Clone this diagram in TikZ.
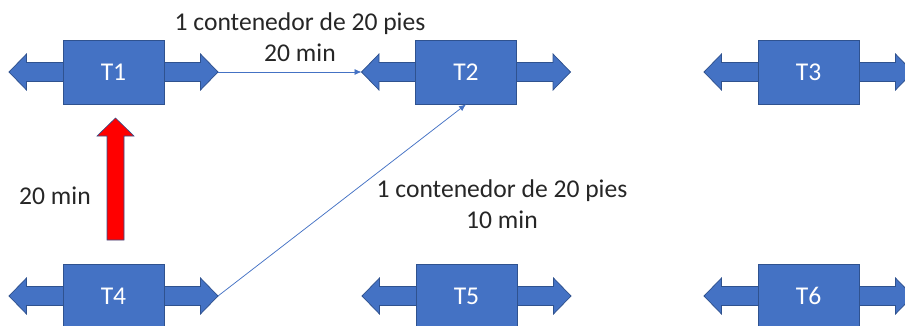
\documentclass[tikz,border=0pt]{standalone}
\usepackage{fontspec}
\setmainfont{Carlito}
\usetikzlibrary{arrows.meta}
\usetikzlibrary{backgrounds}
\usetikzlibrary{scopes}
\definecolor{officeblue}{HTML}{4472C4}
\definecolor{officeedge}{HTML}{2F528F}
\definecolor{labeltext}{HTML}{262626}

\begin{document}
\begin{tikzpicture}[x=1pt,y=-1pt,
    every node/.style={font=\fontsize{25.6}{31}\selectfont},
    terminal/.style={rectangle,draw=officeedge,fill=officeblue,line width=0.75pt,
        minimum width=101pt,minimum height=64pt,inner sep=0pt,text=white},
    sidearrow/.style={draw=officeedge,fill=officeblue,line width=0.75pt},
    redblock/.style={draw=officeedge,fill=red,line width=0.6pt},
    link/.style={officeblue,line width=0.75pt,-{Latex[length=7pt,width=6pt]}},
    note/.style={text=labeltext,align=center,inner sep=0pt}]
    \useasboundingbox (0,0) rectangle (905,325);
    \node[terminal] (t1) at (113.5,72) {T1};
    \node[terminal] (t2) at (466,72) {T2};
    \node[terminal] (t3) at (808.5,72) {T3};
    \node[terminal] (t4) at (113.5,296) {T4};
    \node[terminal] (t5) at (466.5,296) {T5};
    \node[terminal] (t6) at (808.5,296) {T6};
    { [on background layer]
        \foreach \n in {t1,t2,t3,t4,t5,t6} {
            \draw[sidearrow,shift={(\n.center)}] (-104.5,0) -- (-87,-18) -- (-87,-9.5)
                -- (87,-9.5) -- (87,-18) -- (104.5,0) -- (87,18) -- (87,9.5)
                -- (-87,9.5) -- (-87,18) -- cycle;
            \coordinate (\n-l) at ([xshift=-104.5pt]\n.center);
            \coordinate (\n-r) at ([xshift=104.5pt]\n.center);
        }
    }
    \draw[redblock] (115.5,118) -- (134,136) -- (124,136) -- (124,240)
        -- (107,240) -- (107,136) -- (97,136) -- cycle;
    \draw[link] (t1-r) -- (t2-l);
    \draw[link] (t4-r) -- (t2.south);
    \node[note] (top) at (300,37.5) {1 contenedor de 20 pies\\20 min};
    \node[note] (mid) at (502,204) {1 contenedor de 20 pies\\10 min};
    \node[note] (left) at (55,196) {20 min};
\end{tikzpicture}
\end{document}
